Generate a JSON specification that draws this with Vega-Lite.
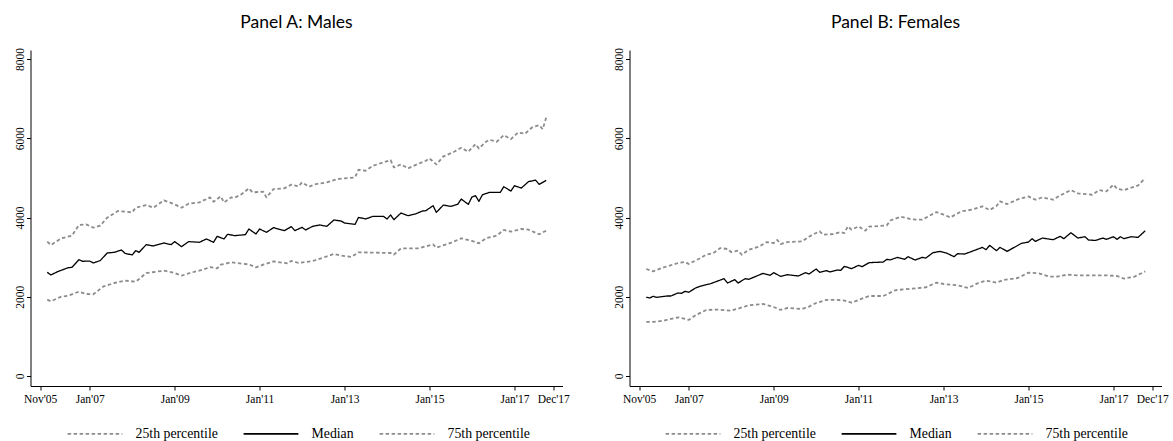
{
  "$schema": "https://vega.github.io/schema/vega-lite/v6.json",
  "background": "white",
  "padding": {"left": 13.5, "top": 14, "right": 5, "bottom": 5},
  "spacing": 67,
  "bounds": "flush",
  "config": {
    "view": {"stroke": null},
    "axis": {"grid": false, "domainColor": "#000000", "tickColor": "#000000", "labelColor": "#000000", "labelFont": "Liberation Serif", "labelFontSize": 11.5, "tickSize": 4, "domainWidth": 1, "tickWidth": 1, "title": null},
    "legend": {"labelFont": "Liberation Serif", "labelFontSize": 13.8, "labelColor": "#000000", "symbolType": "stroke", "symbolSize": 3000, "symbolStrokeWidth": 1.6, "labelOffset": 12, "columnPadding": 21, "title": null},
    "title": {"font": "Lato", "fontSize": 17.5, "fontWeight": "normal", "color": "#000000", "anchor": "middle", "offset": 16}
  },
  "resolve": {"scale": {"color": "independent", "strokeDash": "independent"}, "legend": {"color": "independent", "strokeDash": "independent"}},
  "datasets": {
    "d": [
      {"p":"A","s":"med","d":"2006-01","v":2617},{"p":"A","s":"med","d":"2006-02","v":2549},{"p":"A","s":"med","d":"2006-04","v":2633},{"p":"A","s":"med","d":"2006-07","v":2734},{"p":"A","s":"med","d":"2006-08","v":2740},{"p":"A","s":"med","d":"2006-10","v":2936},{"p":"A","s":"med","d":"2006-11","v":2894},{"p":"A","s":"med","d":"2007-01","v":2900},{"p":"A","s":"med","d":"2007-02","v":2852},{"p":"A","s":"med","d":"2007-04","v":2911},{"p":"A","s":"med","d":"2007-06","v":3104},{"p":"A","s":"med","d":"2007-08","v":3121},{"p":"A","s":"med","d":"2007-10","v":3180},{"p":"A","s":"med","d":"2007-11","v":3096},{"p":"A","s":"med","d":"2008-01","v":3054},{"p":"A","s":"med","d":"2008-02","v":3163},{"p":"A","s":"med","d":"2008-03","v":3121},{"p":"A","s":"med","d":"2008-05","v":3315},{"p":"A","s":"med","d":"2008-07","v":3281},{"p":"A","s":"med","d":"2008-10","v":3357},{"p":"A","s":"med","d":"2008-12","v":3315},{"p":"A","s":"med","d":"2009-01","v":3391},{"p":"A","s":"med","d":"2009-03","v":3264},{"p":"A","s":"med","d":"2009-05","v":3391},{"p":"A","s":"med","d":"2009-08","v":3374},{"p":"A","s":"med","d":"2009-10","v":3458},{"p":"A","s":"med","d":"2009-12","v":3374},{"p":"A","s":"med","d":"2010-01","v":3525},{"p":"A","s":"med","d":"2010-03","v":3458},{"p":"A","s":"med","d":"2010-04","v":3576},{"p":"A","s":"med","d":"2010-06","v":3542},{"p":"A","s":"med","d":"2010-09","v":3567},{"p":"A","s":"med","d":"2010-10","v":3710},{"p":"A","s":"med","d":"2010-12","v":3584},{"p":"A","s":"med","d":"2011-01","v":3710},{"p":"A","s":"med","d":"2011-03","v":3626},{"p":"A","s":"med","d":"2011-05","v":3744},{"p":"A","s":"med","d":"2011-08","v":3668},{"p":"A","s":"med","d":"2011-10","v":3769},{"p":"A","s":"med","d":"2011-11","v":3668},{"p":"A","s":"med","d":"2012-01","v":3752},{"p":"A","s":"med","d":"2012-02","v":3685},{"p":"A","s":"med","d":"2012-04","v":3777},{"p":"A","s":"med","d":"2012-06","v":3811},{"p":"A","s":"med","d":"2012-08","v":3777},{"p":"A","s":"med","d":"2012-10","v":3937},{"p":"A","s":"med","d":"2012-12","v":3912},{"p":"A","s":"med","d":"2013-01","v":3861},{"p":"A","s":"med","d":"2013-04","v":3827},{"p":"A","s":"med","d":"2013-05","v":4004},{"p":"A","s":"med","d":"2013-07","v":3962},{"p":"A","s":"med","d":"2013-09","v":4029},{"p":"A","s":"med","d":"2013-12","v":4029},{"p":"A","s":"med","d":"2014-01","v":3962},{"p":"A","s":"med","d":"2014-02","v":4063},{"p":"A","s":"med","d":"2014-03","v":3945},{"p":"A","s":"med","d":"2014-05","v":4113},{"p":"A","s":"med","d":"2014-07","v":4046},{"p":"A","s":"med","d":"2014-09","v":4088},{"p":"A","s":"med","d":"2014-11","v":4164},{"p":"A","s":"med","d":"2014-12","v":4172},{"p":"A","s":"med","d":"2015-02","v":4298},{"p":"A","s":"med","d":"2015-03","v":4130},{"p":"A","s":"med","d":"2015-05","v":4315},{"p":"A","s":"med","d":"2015-07","v":4281},{"p":"A","s":"med","d":"2015-09","v":4332},{"p":"A","s":"med","d":"2015-10","v":4466},{"p":"A","s":"med","d":"2015-12","v":4332},{"p":"A","s":"med","d":"2016-01","v":4517},{"p":"A","s":"med","d":"2016-02","v":4550},{"p":"A","s":"med","d":"2016-03","v":4407},{"p":"A","s":"med","d":"2016-04","v":4576},{"p":"A","s":"med","d":"2016-06","v":4635},{"p":"A","s":"med","d":"2016-09","v":4635},{"p":"A","s":"med","d":"2016-10","v":4778},{"p":"A","s":"med","d":"2016-12","v":4668},{"p":"A","s":"med","d":"2017-01","v":4803},{"p":"A","s":"med","d":"2017-03","v":4744},{"p":"A","s":"med","d":"2017-05","v":4904},{"p":"A","s":"med","d":"2017-07","v":4946},{"p":"A","s":"med","d":"2017-08","v":4837},{"p":"A","s":"med","d":"2017-10","v":4937},
      {"p":"A","s":"p75","d":"2006-01","v":3390},{"p":"A","s":"p75","d":"2006-02","v":3306},{"p":"A","s":"p75","d":"2006-05","v":3474},{"p":"A","s":"p75","d":"2006-08","v":3542},{"p":"A","s":"p75","d":"2006-10","v":3811},{"p":"A","s":"p75","d":"2006-12","v":3828},{"p":"A","s":"p75","d":"2007-02","v":3744},{"p":"A","s":"p75","d":"2007-04","v":3794},{"p":"A","s":"p75","d":"2007-06","v":3996},{"p":"A","s":"p75","d":"2007-09","v":4164},{"p":"A","s":"p75","d":"2008-01","v":4130},{"p":"A","s":"p75","d":"2008-02","v":4248},{"p":"A","s":"p75","d":"2008-05","v":4315},{"p":"A","s":"p75","d":"2008-07","v":4248},{"p":"A","s":"p75","d":"2008-10","v":4433},{"p":"A","s":"p75","d":"2009-01","v":4332},{"p":"A","s":"p75","d":"2009-03","v":4248},{"p":"A","s":"p75","d":"2009-05","v":4349},{"p":"A","s":"p75","d":"2009-08","v":4382},{"p":"A","s":"p75","d":"2009-11","v":4508},{"p":"A","s":"p75","d":"2009-12","v":4399},{"p":"A","s":"p75","d":"2010-02","v":4534},{"p":"A","s":"p75","d":"2010-03","v":4382},{"p":"A","s":"p75","d":"2010-05","v":4508},{"p":"A","s":"p75","d":"2010-06","v":4500},{"p":"A","s":"p75","d":"2010-08","v":4593},{"p":"A","s":"p75","d":"2010-10","v":4736},{"p":"A","s":"p75","d":"2010-11","v":4635},{"p":"A","s":"p75","d":"2011-02","v":4652},{"p":"A","s":"p75","d":"2011-03","v":4508},{"p":"A","s":"p75","d":"2011-05","v":4719},{"p":"A","s":"p75","d":"2011-08","v":4736},{"p":"A","s":"p75","d":"2011-10","v":4830},{"p":"A","s":"p75","d":"2011-12","v":4786},{"p":"A","s":"p75","d":"2012-01","v":4887},{"p":"A","s":"p75","d":"2012-03","v":4778},{"p":"A","s":"p75","d":"2012-05","v":4845},{"p":"A","s":"p75","d":"2012-08","v":4887},{"p":"A","s":"p75","d":"2012-11","v":4971},{"p":"A","s":"p75","d":"2013-04","v":5013},{"p":"A","s":"p75","d":"2013-05","v":5206},{"p":"A","s":"p75","d":"2013-07","v":5181},{"p":"A","s":"p75","d":"2013-09","v":5307},{"p":"A","s":"p75","d":"2013-12","v":5391},{"p":"A","s":"p75","d":"2014-02","v":5450},{"p":"A","s":"p75","d":"2014-03","v":5265},{"p":"A","s":"p75","d":"2014-05","v":5341},{"p":"A","s":"p75","d":"2014-07","v":5240},{"p":"A","s":"p75","d":"2014-09","v":5324},{"p":"A","s":"p75","d":"2014-12","v":5433},{"p":"A","s":"p75","d":"2015-01","v":5492},{"p":"A","s":"p75","d":"2015-03","v":5341},{"p":"A","s":"p75","d":"2015-05","v":5542},{"p":"A","s":"p75","d":"2015-08","v":5660},{"p":"A","s":"p75","d":"2015-10","v":5761},{"p":"A","s":"p75","d":"2015-12","v":5660},{"p":"A","s":"p75","d":"2016-02","v":5854},{"p":"A","s":"p75","d":"2016-03","v":5744},{"p":"A","s":"p75","d":"2016-05","v":5912},{"p":"A","s":"p75","d":"2016-06","v":5963},{"p":"A","s":"p75","d":"2016-08","v":5912},{"p":"A","s":"p75","d":"2016-10","v":6080},{"p":"A","s":"p75","d":"2016-12","v":5980},{"p":"A","s":"p75","d":"2017-02","v":6148},{"p":"A","s":"p75","d":"2017-04","v":6114},{"p":"A","s":"p75","d":"2017-06","v":6274},{"p":"A","s":"p75","d":"2017-08","v":6333},{"p":"A","s":"p75","d":"2017-09","v":6232},{"p":"A","s":"p75","d":"2017-10","v":6526},
      {"p":"A","s":"p25","d":"2006-01","v":1926},{"p":"A","s":"p25","d":"2006-02","v":1884},{"p":"A","s":"p25","d":"2006-05","v":2001},{"p":"A","s":"p25","d":"2006-07","v":2027},{"p":"A","s":"p25","d":"2006-10","v":2128},{"p":"A","s":"p25","d":"2006-12","v":2069},{"p":"A","s":"p25","d":"2007-02","v":2060},{"p":"A","s":"p25","d":"2007-05","v":2262},{"p":"A","s":"p25","d":"2007-08","v":2346},{"p":"A","s":"p25","d":"2007-11","v":2405},{"p":"A","s":"p25","d":"2008-02","v":2380},{"p":"A","s":"p25","d":"2008-03","v":2447},{"p":"A","s":"p25","d":"2008-05","v":2598},{"p":"A","s":"p25","d":"2008-10","v":2657},{"p":"A","s":"p25","d":"2009-01","v":2598},{"p":"A","s":"p25","d":"2009-03","v":2531},{"p":"A","s":"p25","d":"2009-06","v":2615},{"p":"A","s":"p25","d":"2009-09","v":2682},{"p":"A","s":"p25","d":"2009-11","v":2749},{"p":"A","s":"p25","d":"2010-01","v":2716},{"p":"A","s":"p25","d":"2010-02","v":2808},{"p":"A","s":"p25","d":"2010-05","v":2867},{"p":"A","s":"p25","d":"2010-08","v":2833},{"p":"A","s":"p25","d":"2010-10","v":2816},{"p":"A","s":"p25","d":"2010-12","v":2741},{"p":"A","s":"p25","d":"2011-02","v":2808},{"p":"A","s":"p25","d":"2011-05","v":2892},{"p":"A","s":"p25","d":"2011-09","v":2841},{"p":"A","s":"p25","d":"2011-10","v":2905},{"p":"A","s":"p25","d":"2011-12","v":2852},{"p":"A","s":"p25","d":"2012-04","v":2900},{"p":"A","s":"p25","d":"2012-07","v":2987},{"p":"A","s":"p25","d":"2012-10","v":3079},{"p":"A","s":"p25","d":"2012-12","v":3037},{"p":"A","s":"p25","d":"2013-03","v":3004},{"p":"A","s":"p25","d":"2013-05","v":3121},{"p":"A","s":"p25","d":"2013-09","v":3113},{"p":"A","s":"p25","d":"2014-02","v":3104},{"p":"A","s":"p25","d":"2014-03","v":3062},{"p":"A","s":"p25","d":"2014-05","v":3222},{"p":"A","s":"p25","d":"2014-10","v":3222},{"p":"A","s":"p25","d":"2015-02","v":3323},{"p":"A","s":"p25","d":"2015-03","v":3239},{"p":"A","s":"p25","d":"2015-07","v":3357},{"p":"A","s":"p25","d":"2015-10","v":3475},{"p":"A","s":"p25","d":"2016-01","v":3408},{"p":"A","s":"p25","d":"2016-03","v":3349},{"p":"A","s":"p25","d":"2016-05","v":3475},{"p":"A","s":"p25","d":"2016-08","v":3542},{"p":"A","s":"p25","d":"2016-10","v":3685},{"p":"A","s":"p25","d":"2016-12","v":3643},{"p":"A","s":"p25","d":"2017-03","v":3710},{"p":"A","s":"p25","d":"2017-05","v":3693},{"p":"A","s":"p25","d":"2017-08","v":3576},{"p":"A","s":"p25","d":"2017-10","v":3668},
      {"p":"B","s":"med","d":"2006-01","v":1985},{"p":"B","s":"med","d":"2006-02","v":1968},{"p":"B","s":"med","d":"2006-03","v":2010},{"p":"B","s":"med","d":"2006-04","v":1985},{"p":"B","s":"med","d":"2006-07","v":2018},{"p":"B","s":"med","d":"2006-08","v":2018},{"p":"B","s":"med","d":"2006-10","v":2094},{"p":"B","s":"med","d":"2006-11","v":2086},{"p":"B","s":"med","d":"2006-12","v":2136},{"p":"B","s":"med","d":"2007-01","v":2111},{"p":"B","s":"med","d":"2007-03","v":2220},{"p":"B","s":"med","d":"2007-04","v":2254},{"p":"B","s":"med","d":"2007-06","v":2304},{"p":"B","s":"med","d":"2007-07","v":2321},{"p":"B","s":"med","d":"2007-09","v":2388},{"p":"B","s":"med","d":"2007-11","v":2456},{"p":"B","s":"med","d":"2007-12","v":2346},{"p":"B","s":"med","d":"2008-02","v":2430},{"p":"B","s":"med","d":"2008-03","v":2346},{"p":"B","s":"med","d":"2008-05","v":2456},{"p":"B","s":"med","d":"2008-06","v":2439},{"p":"B","s":"med","d":"2008-08","v":2514},{"p":"B","s":"med","d":"2008-10","v":2590},{"p":"B","s":"med","d":"2008-12","v":2540},{"p":"B","s":"med","d":"2009-01","v":2607},{"p":"B","s":"med","d":"2009-03","v":2514},{"p":"B","s":"med","d":"2009-05","v":2556},{"p":"B","s":"med","d":"2009-08","v":2523},{"p":"B","s":"med","d":"2009-10","v":2607},{"p":"B","s":"med","d":"2009-11","v":2573},{"p":"B","s":"med","d":"2010-01","v":2699},{"p":"B","s":"med","d":"2010-02","v":2615},{"p":"B","s":"med","d":"2010-04","v":2657},{"p":"B","s":"med","d":"2010-05","v":2624},{"p":"B","s":"med","d":"2010-07","v":2674},{"p":"B","s":"med","d":"2010-08","v":2666},{"p":"B","s":"med","d":"2010-09","v":2767},{"p":"B","s":"med","d":"2010-11","v":2708},{"p":"B","s":"med","d":"2011-01","v":2792},{"p":"B","s":"med","d":"2011-02","v":2758},{"p":"B","s":"med","d":"2011-04","v":2859},{"p":"B","s":"med","d":"2011-08","v":2876},{"p":"B","s":"med","d":"2011-09","v":2943},{"p":"B","s":"med","d":"2011-10","v":2930},{"p":"B","s":"med","d":"2011-12","v":2993},{"p":"B","s":"med","d":"2012-02","v":2943},{"p":"B","s":"med","d":"2012-03","v":3010},{"p":"B","s":"med","d":"2012-05","v":2926},{"p":"B","s":"med","d":"2012-07","v":2993},{"p":"B","s":"med","d":"2012-08","v":2976},{"p":"B","s":"med","d":"2012-10","v":3111},{"p":"B","s":"med","d":"2012-12","v":3145},{"p":"B","s":"med","d":"2013-02","v":3094},{"p":"B","s":"med","d":"2013-04","v":3010},{"p":"B","s":"med","d":"2013-05","v":3086},{"p":"B","s":"med","d":"2013-07","v":3077},{"p":"B","s":"med","d":"2013-10","v":3178},{"p":"B","s":"med","d":"2013-12","v":3246},{"p":"B","s":"med","d":"2014-01","v":3187},{"p":"B","s":"med","d":"2014-02","v":3296},{"p":"B","s":"med","d":"2014-04","v":3162},{"p":"B","s":"med","d":"2014-05","v":3246},{"p":"B","s":"med","d":"2014-07","v":3145},{"p":"B","s":"med","d":"2014-09","v":3246},{"p":"B","s":"med","d":"2014-11","v":3347},{"p":"B","s":"med","d":"2015-01","v":3380},{"p":"B","s":"med","d":"2015-02","v":3465},{"p":"B","s":"med","d":"2015-03","v":3397},{"p":"B","s":"med","d":"2015-05","v":3481},{"p":"B","s":"med","d":"2015-08","v":3439},{"p":"B","s":"med","d":"2015-10","v":3524},{"p":"B","s":"med","d":"2015-11","v":3465},{"p":"B","s":"med","d":"2016-01","v":3616},{"p":"B","s":"med","d":"2016-03","v":3481},{"p":"B","s":"med","d":"2016-05","v":3515},{"p":"B","s":"med","d":"2016-06","v":3431},{"p":"B","s":"med","d":"2016-08","v":3422},{"p":"B","s":"med","d":"2016-10","v":3481},{"p":"B","s":"med","d":"2016-11","v":3448},{"p":"B","s":"med","d":"2017-01","v":3515},{"p":"B","s":"med","d":"2017-02","v":3448},{"p":"B","s":"med","d":"2017-03","v":3515},{"p":"B","s":"med","d":"2017-04","v":3465},{"p":"B","s":"med","d":"2017-06","v":3515},{"p":"B","s":"med","d":"2017-08","v":3498},{"p":"B","s":"med","d":"2017-10","v":3666},
      {"p":"B","s":"p75","d":"2006-01","v":2700},{"p":"B","s":"p75","d":"2006-03","v":2641},{"p":"B","s":"p75","d":"2006-06","v":2742},{"p":"B","s":"p75","d":"2006-10","v":2851},{"p":"B","s":"p75","d":"2006-12","v":2876},{"p":"B","s":"p75","d":"2007-01","v":2826},{"p":"B","s":"p75","d":"2007-04","v":2960},{"p":"B","s":"p75","d":"2007-06","v":3061},{"p":"B","s":"p75","d":"2007-08","v":3103},{"p":"B","s":"p75","d":"2007-10","v":3229},{"p":"B","s":"p75","d":"2007-12","v":3204},{"p":"B","s":"p75","d":"2008-01","v":3128},{"p":"B","s":"p75","d":"2008-03","v":3162},{"p":"B","s":"p75","d":"2008-04","v":3061},{"p":"B","s":"p75","d":"2008-06","v":3187},{"p":"B","s":"p75","d":"2008-09","v":3271},{"p":"B","s":"p75","d":"2008-11","v":3380},{"p":"B","s":"p75","d":"2009-01","v":3355},{"p":"B","s":"p75","d":"2009-02","v":3431},{"p":"B","s":"p75","d":"2009-03","v":3330},{"p":"B","s":"p75","d":"2009-05","v":3380},{"p":"B","s":"p75","d":"2009-09","v":3397},{"p":"B","s":"p75","d":"2009-11","v":3515},{"p":"B","s":"p75","d":"2009-12","v":3566},{"p":"B","s":"p75","d":"2010-02","v":3650},{"p":"B","s":"p75","d":"2010-03","v":3566},{"p":"B","s":"p75","d":"2010-06","v":3583},{"p":"B","s":"p75","d":"2010-08","v":3633},{"p":"B","s":"p75","d":"2010-09","v":3608},{"p":"B","s":"p75","d":"2010-10","v":3776},{"p":"B","s":"p75","d":"2010-11","v":3692},{"p":"B","s":"p75","d":"2011-01","v":3776},{"p":"B","s":"p75","d":"2011-03","v":3667},{"p":"B","s":"p75","d":"2011-04","v":3768},{"p":"B","s":"p75","d":"2011-09","v":3801},{"p":"B","s":"p75","d":"2011-10","v":3925},{"p":"B","s":"p75","d":"2011-11","v":3960},{"p":"B","s":"p75","d":"2012-01","v":4020},{"p":"B","s":"p75","d":"2012-04","v":3953},{"p":"B","s":"p75","d":"2012-07","v":3944},{"p":"B","s":"p75","d":"2012-11","v":4138},{"p":"B","s":"p75","d":"2013-01","v":4071},{"p":"B","s":"p75","d":"2013-03","v":4003},{"p":"B","s":"p75","d":"2013-06","v":4155},{"p":"B","s":"p75","d":"2013-09","v":4197},{"p":"B","s":"p75","d":"2013-12","v":4281},{"p":"B","s":"p75","d":"2014-02","v":4188},{"p":"B","s":"p75","d":"2014-04","v":4289},{"p":"B","s":"p75","d":"2014-05","v":4407},{"p":"B","s":"p75","d":"2014-07","v":4340},{"p":"B","s":"p75","d":"2014-10","v":4458},{"p":"B","s":"p75","d":"2015-01","v":4533},{"p":"B","s":"p75","d":"2015-03","v":4449},{"p":"B","s":"p75","d":"2015-05","v":4508},{"p":"B","s":"p75","d":"2015-08","v":4449},{"p":"B","s":"p75","d":"2015-10","v":4559},{"p":"B","s":"p75","d":"2016-01","v":4693},{"p":"B","s":"p75","d":"2016-03","v":4609},{"p":"B","s":"p75","d":"2016-07","v":4575},{"p":"B","s":"p75","d":"2016-09","v":4693},{"p":"B","s":"p75","d":"2016-11","v":4659},{"p":"B","s":"p75","d":"2017-01","v":4828},{"p":"B","s":"p75","d":"2017-02","v":4727},{"p":"B","s":"p75","d":"2017-04","v":4693},{"p":"B","s":"p75","d":"2017-07","v":4777},{"p":"B","s":"p75","d":"2017-08","v":4811},{"p":"B","s":"p75","d":"2017-10","v":4996},
      {"p":"B","s":"p25","d":"2006-01","v":1363},{"p":"B","s":"p25","d":"2006-03","v":1363},{"p":"B","s":"p25","d":"2006-06","v":1396},{"p":"B","s":"p25","d":"2006-10","v":1480},{"p":"B","s":"p25","d":"2006-12","v":1438},{"p":"B","s":"p25","d":"2007-01","v":1413},{"p":"B","s":"p25","d":"2007-03","v":1531},{"p":"B","s":"p25","d":"2007-06","v":1665},{"p":"B","s":"p25","d":"2007-09","v":1674},{"p":"B","s":"p25","d":"2008-01","v":1649},{"p":"B","s":"p25","d":"2008-03","v":1699},{"p":"B","s":"p25","d":"2008-06","v":1783},{"p":"B","s":"p25","d":"2008-10","v":1817},{"p":"B","s":"p25","d":"2009-01","v":1741},{"p":"B","s":"p25","d":"2009-03","v":1665},{"p":"B","s":"p25","d":"2009-05","v":1716},{"p":"B","s":"p25","d":"2009-09","v":1690},{"p":"B","s":"p25","d":"2009-11","v":1750},{"p":"B","s":"p25","d":"2010-01","v":1842},{"p":"B","s":"p25","d":"2010-04","v":1918},{"p":"B","s":"p25","d":"2010-07","v":1918},{"p":"B","s":"p25","d":"2010-09","v":1901},{"p":"B","s":"p25","d":"2010-11","v":1851},{"p":"B","s":"p25","d":"2011-01","v":1918},{"p":"B","s":"p25","d":"2011-04","v":2018},{"p":"B","s":"p25","d":"2011-08","v":2018},{"p":"B","s":"p25","d":"2011-10","v":2103},{"p":"B","s":"p25","d":"2011-11","v":2153},{"p":"B","s":"p25","d":"2011-12","v":2170},{"p":"B","s":"p25","d":"2012-04","v":2203},{"p":"B","s":"p25","d":"2012-08","v":2237},{"p":"B","s":"p25","d":"2012-11","v":2355},{"p":"B","s":"p25","d":"2013-01","v":2321},{"p":"B","s":"p25","d":"2013-05","v":2288},{"p":"B","s":"p25","d":"2013-08","v":2220},{"p":"B","s":"p25","d":"2013-11","v":2355},{"p":"B","s":"p25","d":"2014-01","v":2405},{"p":"B","s":"p25","d":"2014-04","v":2355},{"p":"B","s":"p25","d":"2014-06","v":2422},{"p":"B","s":"p25","d":"2014-10","v":2472},{"p":"B","s":"p25","d":"2015-01","v":2607},{"p":"B","s":"p25","d":"2015-04","v":2590},{"p":"B","s":"p25","d":"2015-07","v":2506},{"p":"B","s":"p25","d":"2015-09","v":2506},{"p":"B","s":"p25","d":"2015-12","v":2556},{"p":"B","s":"p25","d":"2016-03","v":2540},{"p":"B","s":"p25","d":"2016-07","v":2540},{"p":"B","s":"p25","d":"2016-11","v":2540},{"p":"B","s":"p25","d":"2017-02","v":2523},{"p":"B","s":"p25","d":"2017-04","v":2456},{"p":"B","s":"p25","d":"2017-07","v":2506},{"p":"B","s":"p25","d":"2017-10","v":2640}
    ]
  },
  "hconcat": [
    {
      "title": "Panel A: Males",
      "width": 532,
      "height": 336,
      "data": {"name": "d"},
      "transform": [{"filter": "datum.p === 'A'"}],
      "encoding": {
        "x": {"field": "d", "type": "temporal",
          "scale": {"type": "utc", "domain": [{"year": 2005, "month": 8, "date": 10, "utc": true}, {"year": 2018, "month": 2, "date": 18, "utc": true}]},
          "axis": {"values": [{"year": 2005, "month": 11, "date": 1, "utc": true}, {"year": 2007, "month": 1, "date": 1, "utc": true}, {"year": 2009, "month": 1, "date": 1, "utc": true}, {"year": 2011, "month": 1, "date": 1, "utc": true}, {"year": 2013, "month": 1, "date": 1, "utc": true}, {"year": 2015, "month": 1, "date": 1, "utc": true}, {"year": 2017, "month": 1, "date": 1, "utc": true}, {"year": 2017, "month": 12, "date": 1, "utc": true}],
            "labelExpr": "utcFormat(datum.value, \"%b'%y\")", "labelPadding": 3, "labelFlush": false, "labelOverlap": false}},
        "y": {"field": "v", "type": "quantitative",
          "scale": {"domain": [-255, 8230], "nice": false, "zero": false},
          "axis": {"values": [0, 2000, 4000, 6000, 8000], "format": "d", "labelAngle": -90, "labelAlign": "center", "labelBaseline": "bottom", "labelPadding": 1, "labelFlush": false, "labelOverlap": false}},
        "color": {"field": "s", "type": "nominal",
          "scale": {"domain": ["p25", "med", "p75"], "range": ["#8c8c8c", "#000000", "#8c8c8c"]},
          "legend": {"orient": "none", "legendX": 36, "legendY": 355, "direction": "horizontal", "labelExpr": "datum.value === 'p25' ? '25th percentile' : datum.value === 'med' ? 'Median' : '75th percentile'"}},
        "strokeDash": {"field": "s", "type": "nominal",
          "scale": {"domain": ["p25", "med", "p75"], "range": [[3.5, 2.5], [1, 0], [3.5, 2.5]]},
          "legend": {"orient": "none", "legendX": 36, "legendY": 355, "direction": "horizontal", "labelExpr": "datum.value === 'p25' ? '25th percentile' : datum.value === 'med' ? 'Median' : '75th percentile'"}}
      },
      "layer": [
        {"transform": [{"filter": "datum.s !== 'med'"}], "mark": {"type": "line", "strokeWidth": 1.8, "strokeJoin": "round"}},
        {"transform": [{"filter": "datum.s === 'med'"}], "mark": {"type": "line", "strokeWidth": 1.3, "strokeJoin": "round"}}
      ]
    },
    {
      "title": "Panel B: Females",
      "width": 532,
      "height": 336,
      "data": {"name": "d"},
      "transform": [{"filter": "datum.p === 'B'"}],
      "encoding": {
        "x": {"field": "d", "type": "temporal",
          "scale": {"type": "utc", "domain": [{"year": 2005, "month": 8, "date": 10, "utc": true}, {"year": 2018, "month": 2, "date": 18, "utc": true}]},
          "axis": {"values": [{"year": 2005, "month": 11, "date": 1, "utc": true}, {"year": 2007, "month": 1, "date": 1, "utc": true}, {"year": 2009, "month": 1, "date": 1, "utc": true}, {"year": 2011, "month": 1, "date": 1, "utc": true}, {"year": 2013, "month": 1, "date": 1, "utc": true}, {"year": 2015, "month": 1, "date": 1, "utc": true}, {"year": 2017, "month": 1, "date": 1, "utc": true}, {"year": 2017, "month": 12, "date": 1, "utc": true}],
            "labelExpr": "utcFormat(datum.value, \"%b'%y\")", "labelPadding": 3, "labelFlush": false, "labelOverlap": false}},
        "y": {"field": "v", "type": "quantitative",
          "scale": {"domain": [-255, 8230], "nice": false, "zero": false},
          "axis": {"values": [0, 2000, 4000, 6000, 8000], "format": "d", "labelAngle": -90, "labelAlign": "center", "labelBaseline": "bottom", "labelPadding": 1, "labelFlush": false, "labelOverlap": false}},
        "color": {"field": "s", "type": "nominal",
          "scale": {"domain": ["p25", "med", "p75"], "range": ["#8c8c8c", "#000000", "#8c8c8c"]},
          "legend": {"orient": "none", "legendX": 35, "legendY": 355, "direction": "horizontal", "labelExpr": "datum.value === 'p25' ? '25th percentile' : datum.value === 'med' ? 'Median' : '75th percentile'"}},
        "strokeDash": {"field": "s", "type": "nominal",
          "scale": {"domain": ["p25", "med", "p75"], "range": [[3.5, 2.5], [1, 0], [3.5, 2.5]]},
          "legend": {"orient": "none", "legendX": 35, "legendY": 355, "direction": "horizontal", "labelExpr": "datum.value === 'p25' ? '25th percentile' : datum.value === 'med' ? 'Median' : '75th percentile'"}}
      },
      "layer": [
        {"transform": [{"filter": "datum.s !== 'med'"}], "mark": {"type": "line", "strokeWidth": 1.8, "strokeJoin": "round"}},
        {"transform": [{"filter": "datum.s === 'med'"}], "mark": {"type": "line", "strokeWidth": 1.3, "strokeJoin": "round"}}
      ]
    }
  ]
}
